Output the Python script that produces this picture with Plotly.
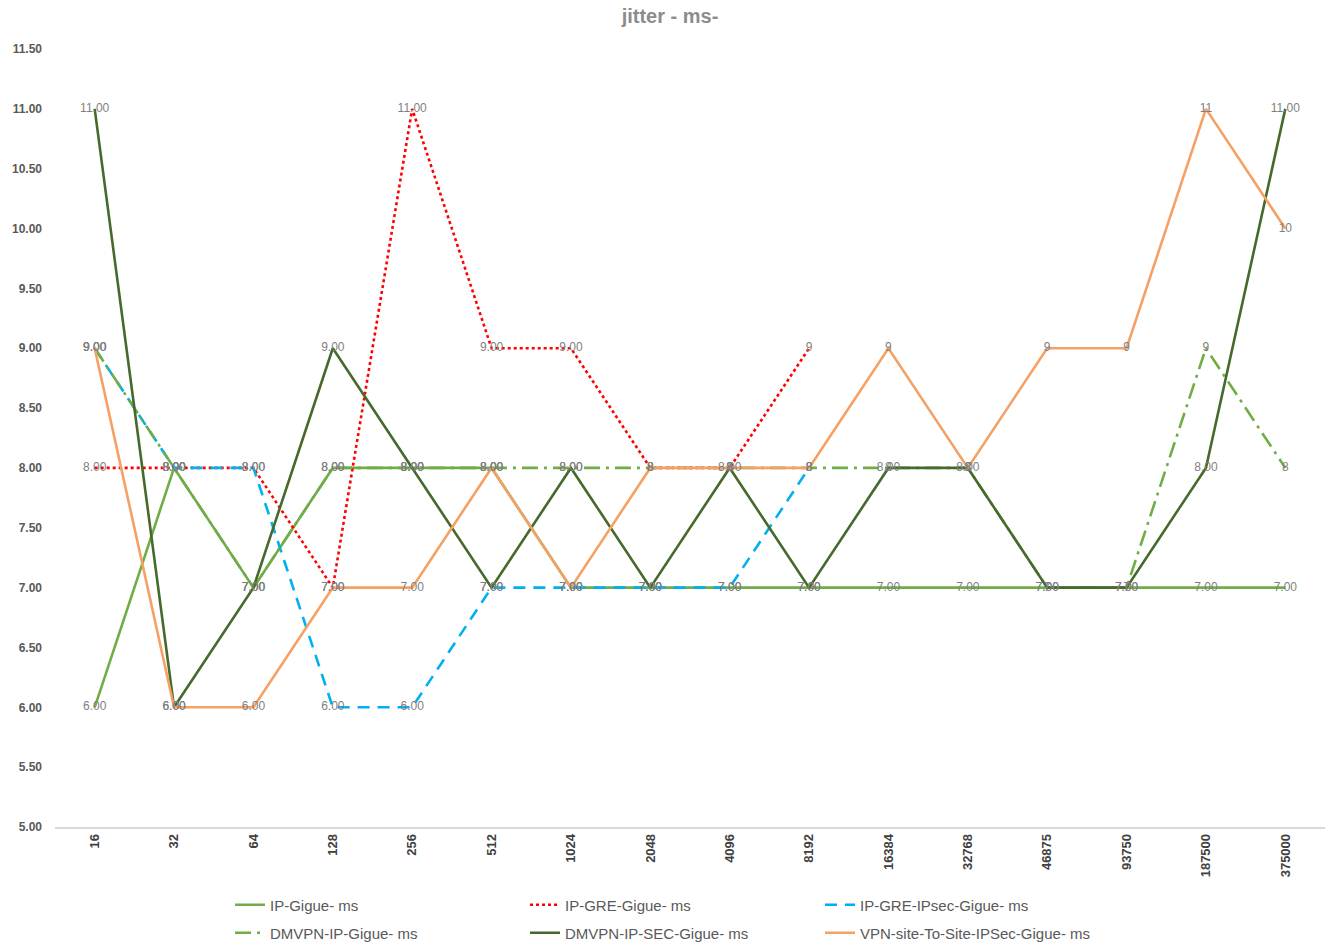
import plotly.graph_objects as go

# Packet sizes on the category axis
sizes = ["16", "32", "64", "128", "256", "512", "1024", "2048", "4096", "8192",
         "16384", "32768", "46875", "93750", "187500", "375000"]

# Jitter (ms) per scenario; floats are shown with two decimals, ints as typed
ip_gigue = [6.0, 8.0, 7.0, 8.0, 8.0, 8.0, 7.0, 7.0, 7.0, 7.0, 7.0, 7.0, 7.0, 7.0, 7.0, 7.0]
ip_gre_gigue = [8.0, 8.0, 8.0, 7.0, 11.0, 9.0, 9.0, 8, 8, 9, None, None, None, None, None, None]
ip_gre_ipsec_gigue = [9.0, 8.0, 8.0, 6.0, 6.0, 7.0, 7.0, 7.0, 7.0, 8, None, None, None, None, None, None]
dmvpn_ip_gigue = [9.0, 8.0, 7.0, 8.0, 8.0, 8.0, 8.0, 8, 8, 8, 8, 8, 7, 7, 9, 8]
dmvpn_ipsec_gigue = [11.0, 6.0, 7.0, 9.0, 8.0, 7.0, 8.0, 7.0, 8.0, 7.0, 8.0, 8.0, 7.0, 7.0, 8.0, 11.0]
vpn_s2s_ipsec_gigue = [9.0, 6.0, 6.0, 7.0, 7.0, 8.0, 7.0, 8, 8, 8, 9, 8, 9, 9, 11, 10]

y_ticks = [5.0, 5.5, 6.0, 6.5, 7.0, 7.5, 8.0, 8.5, 9.0, 9.5, 10.0, 10.5, 11.0, 11.5]

series = [
    ("IP-Gigue- ms", ip_gigue, "#70AD47", "solid", "legend"),
    ("IP-GRE-Gigue- ms", ip_gre_gigue, "#FF0000", "dot", "legend"),
    ("IP-GRE-IPsec-Gigue- ms", ip_gre_ipsec_gigue, "#00B0F0", "12px,8px", "legend"),
    ("DMVPN-IP-Gigue- ms", dmvpn_ip_gigue, "#70AD47", "16px,6px,3px,6px", "legend2"),
    ("DMVPN-IP-SEC-Gigue- ms", dmvpn_ipsec_gigue, "#46692C", "solid", "legend2"),
    ("VPN-site-To-Site-IPSec-Gigue- ms", vpn_s2s_ipsec_gigue, "#F4A163", "solid", "legend2"),
]


def fmt(v):
    if v is None:
        return ""
    if isinstance(v, float):
        return f"{v:.2f}"
    return str(v)


fig = go.Figure()

for name, vals, color, dash, leg in series:
    fig.add_trace(go.Scatter(
        x=sizes, y=vals, name=name, mode="lines", legend=leg,
        line=dict(color=color, width=2.6, dash=dash),
        connectgaps=False,
    ))

# value labels sit on top of every line
for name, vals, color, dash, leg in series:
    fig.add_trace(go.Scatter(
        x=sizes, y=vals, mode="text", showlegend=False,
        text=[fmt(v) for v in vals], textposition="middle center",
        textfont=dict(family="Liberation Sans, sans-serif", size=12, color="#7F7F7F"),
        hoverinfo="skip",
    ))

legend_font = dict(family="Liberation Sans, sans-serif", size=15, color="#595959")
legend_common = dict(orientation="h", xref="container", x=230 / 1325, xanchor="left",
                     yref="container", yanchor="middle",
                     entrywidth=250, entrywidthmode="pixels",
                     font=legend_font, traceorder="normal", bgcolor="rgba(0,0,0,0)")

fig.update_layout(
    width=1325, height=944,
    margin=dict(l=55, r=0, t=49, b=117),
    paper_bgcolor="white", plot_bgcolor="white",
    title=dict(text="<b>jitter - ms-</b>", x=670 / 1325, xref="container",
               xanchor="center", y=1 - 16 / 944, yref="container", yanchor="middle",
               font=dict(family="Liberation Sans, sans-serif", size=20, color="#8C8C8C")),
    showlegend=True,
    legend=dict(legend_common, y=1 - 905 / 944),
    legend2=dict(legend_common, y=1 - 933 / 944),
)

fig.update_xaxes(
    type="category", range=[-0.5, 15.5], showgrid=False, zeroline=False,
    showline=True, linecolor="#D9D9D9", linewidth=1.5,
    tickangle=-90, ticks="",
    tickfont=dict(family="Liberation Sans", size=13, color="#404040", weight="bold"),
)
fig.update_yaxes(
    range=[5, 11.5], tickvals=y_ticks, ticktext=[f"{v:.2f}" for v in y_ticks],
    showgrid=False, zeroline=False, showline=False, ticks="",
    ticklabelstandoff=12,
    tickfont=dict(family="Liberation Sans, sans-serif", size=12, color="#595959",
                  weight="bold"),
)

fig.write_html("out.html")
